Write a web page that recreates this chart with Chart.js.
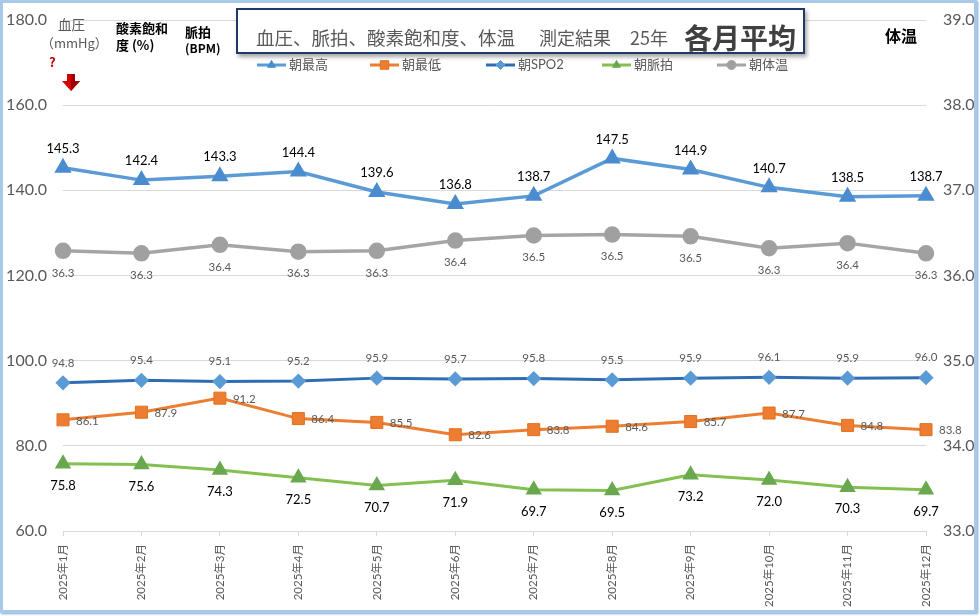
<!DOCTYPE html>
<html><head><meta charset="utf-8">
<script src="https://cdn.jsdelivr.net/npm/chart.js@4.4.1/dist/chart.umd.min.js"></script>
<style>
html,body{margin:0;padding:0;background:#fff;}
#wrap{position:relative;width:980px;height:616px;overflow:hidden;font-family:"Noto Sans CJK JP","Noto Sans",sans-serif;}
#c{position:absolute;left:0;top:0;}
#frame{position:absolute;left:0;top:0;width:971px;height:607px;border:3px solid #a9c9ea;box-shadow:1px 1px 2px #7ea6cf;pointer-events:none;}
.t{position:absolute;white-space:nowrap;line-height:1;}
#titlebox{position:absolute;left:236px;top:8px;width:565px;height:42px;border:2px solid #1f3a68;background:#fff;box-shadow:2px 3px 4px rgba(0,0,0,0.35);}
</style></head>
<body><div id="wrap">
<canvas id="c" width="980" height="616"></canvas>
<div id="titlebox"></div>
<div class="t" style="left:256px;top:28px;font-size:18.5px;color:#595959">血圧、脈拍、酸素飽和度、体温</div>
<div class="t" style="left:539px;top:28px;font-size:18px;color:#595959">測定結果</div>
<div class="t" style="left:630px;top:28px;font-size:18px;color:#595959">25年</div>
<div class="t" style="left:684px;top:23px;font-size:28px;font-weight:bold;color:#404040">各月平均</div>

<div class="t" style="left:58px;top:18px;font-size:13.5px;color:#595959">血圧</div>
<div class="t" style="left:41px;top:36px;font-size:13px;color:#595959">（mmHg）</div>
<div class="t" style="left:49px;top:55px;font-size:13px;font-weight:bold;color:#c00000">?</div>
<svg style="position:absolute;left:62px;top:74px" width="18" height="17" viewBox="0 0 18 17">
  <polygon points="5,0 13,0 13,7 18,7 9,17 0,7 5,7" fill="#d40000"/>
  <polygon points="9,0 13,0 13,7 18,7 9,17" fill="#a00000"/>
</svg>
<div class="t" style="left:116px;top:21px;font-size:13px;font-weight:bold;color:#000">酸素飽和</div>
<div class="t" style="left:116px;top:38px;font-size:13px;font-weight:bold;color:#000">度 (%)</div>
<div class="t" style="left:185px;top:25px;font-size:13px;font-weight:bold;color:#000">脈拍</div>
<div class="t" style="left:185px;top:42px;font-size:12px;font-weight:bold;color:#000">(BPM)</div>
<div class="t" style="left:885px;top:27px;font-size:16px;font-weight:bold;color:#000">体温</div>
<div id="legendText"></div>
<div id="frame"></div>
</div>
<script>
// ---- data ----
const months = ['2025年1月','2025年2月','2025年3月','2025年4月','2025年5月','2025年6月','2025年7月','2025年8月','2025年9月','2025年10月','2025年11月','2025年12月'];
const seriesNames = ['朝最高','朝最低','朝SPO2','朝脈拍','朝体温'];
const morningHigh  = [145.3,142.4,143.3,144.4,139.6,136.8,138.7,147.5,144.9,140.7,138.5,138.7];
const morningLow   = [86.1,87.9,91.2,86.4,85.5,82.6,83.8,84.6,85.7,87.7,84.8,83.8];
const morningSpo2  = [94.8,95.4,95.1,95.2,95.9,95.7,95.8,95.5,95.9,96.1,95.9,96.0];
const morningPulse = [75.8,75.6,74.3,72.5,70.7,71.9,69.7,69.5,73.2,72.0,70.3,69.7];
const morningTemp  = [36.29,36.26,36.36,36.28,36.29,36.41,36.47,36.48,36.46,36.32,36.38,36.26];
const leftAxisRange = [60,180];
const rightAxisRange = [33,39];

Chart.defaults.font.family = "Lato, 'Noto Sans CJK JP', sans-serif";

const FONTF = "Lato, 'Noto Sans CJK JP', sans-serif";

const datasets = [
  {label:seriesNames[0], data:morningHigh, yAxisID:'y', borderColor:'#5b9bd5', backgroundColor:'#4a8ccf', borderWidth:3.5,
   pointStyle:'triangle', pointRadius:6.5, pointBorderColor:'#4a8ccf', pointBackgroundColor:'#4a8ccf',
   lbl:{pos:'above', off:19, font:'13px '+FONTF, color:'#000'}},
  {label:seriesNames[1], data:morningLow, yAxisID:'y', borderColor:'#ed7d31', backgroundColor:'#ed7d31', borderWidth:3,
   pointStyle:'rect', pointRadius:8.5, pointBorderColor:'#e0701f', pointBorderWidth:1, pointBackgroundColor:'#ed7d31',
   lbl:{pos:'right', off:13, font:'11.5px '+FONTF, color:'#595959'}},
  {label:seriesNames[2], data:morningSpo2, yAxisID:'y', borderColor:'#2e6db4', backgroundColor:'#5b9bd5', borderWidth:3,
   pointStyle:'rectRot', pointRadius:5.5, pointBorderColor:'#5b9bd5', pointBackgroundColor:'#5b9bd5',
   lbl:{pos:'above', off:20, font:'11.5px '+FONTF, color:'#595959'}},
  {label:seriesNames[3], data:morningPulse, yAxisID:'y', borderColor:'#84c050', backgroundColor:'#6aa84f', borderWidth:3,
   pointStyle:'triangle', pointRadius:6.5, pointBorderColor:'#6aa84f', pointBackgroundColor:'#6aa84f',
   lbl:{pos:'below', off:22, font:'13px '+FONTF, color:'#000'}},
  {label:seriesNames[4], data:morningTemp, yAxisID:'y2', borderColor:'#a5a5a5', backgroundColor:'#a0a0a0', borderWidth:3.5,
   pointStyle:'circle', pointRadius:6.5, pointBorderColor:'#a0a0a0', pointBackgroundColor:'#a0a0a0',
   lbl:{pos:'below', off:22, font:'11.5px '+FONTF, color:'#595959'}}
];

const labelPlugin = {
  id:'valueLabels',
  afterDatasetsDraw(chart){
    const ctx = chart.ctx;
    chart.data.datasets.forEach((ds,i)=>{
      const meta = chart.getDatasetMeta(i);
      const o = ds.lbl;
      ctx.save();
      ctx.font = o.font; ctx.fillStyle = o.color; ctx.textBaseline = 'middle';
      ctx.textAlign = o.pos==='right' ? 'left' : 'center';
      meta.data.forEach((pt,j)=>{
        let x = pt.x, y = pt.y;
        if(o.pos==='above') y -= o.off;
        else if(o.pos==='below') y += o.off;
        else { x += o.off; y += 1; }
        ctx.fillText(ds.data[j].toFixed(1), x, y);
      });
      ctx.restore();
    });
  }
};

const legendX = [257,370,486,602,717];
const legendY = 65;
const legendPlugin = {
  id:'legendSymbols',
  afterDraw(chart){
    const ctx = chart.ctx;
    chart.data.datasets.forEach((ds,i)=>{
      const x0 = legendX[i];
      ctx.save();
      ctx.strokeStyle = ds.borderColor; ctx.lineWidth = 3;
      ctx.beginPath(); ctx.moveTo(x0, legendY); ctx.lineTo(x0+29, legendY); ctx.stroke();
      ctx.fillStyle = ds.pointBackgroundColor; ctx.strokeStyle = ds.pointBorderColor; ctx.lineWidth = 1;
      Chart.helpers.drawPoint(ctx, {pointStyle:ds.pointStyle, radius: ds.pointStyle==='rect'?6:4.5, rotation:0, borderWidth:1}, x0+14.5, legendY);
      ctx.restore();
    });
  }
};

// legend text as HTML
const lt = document.getElementById('legendText');
seriesNames.forEach((n,i)=>{
  const d = document.createElement('div');
  d.className = 't';
  d.style.cssText = 'left:'+(legendX[i]+32)+'px;top:'+(legendY-7)+'px;font-size:13px;color:#595959;font-family:Lato,"Noto Sans CJK JP",sans-serif';
  d.textContent = n;
  lt.appendChild(d);
});

new Chart(document.getElementById('c'), {
  type:'line',
  data:{labels:months, datasets:datasets},
  options:{
    responsive:false, animation:false, devicePixelRatio:1,
    layout:{padding:{top:20,left:0,right:0,bottom:0}},
    plugins:{legend:{display:false}, title:{display:false}, tooltip:{enabled:false}},
    elements:{line:{tension:0}},
    scales:{
      x:{type:'category', offset:false,
         grid:{display:true, drawOnChartArea:false, drawTicks:true, tickLength:5, color:'#d9d9d9'},
         border:{display:false},
         ticks:{maxRotation:90, minRotation:90, autoSkip:false, color:'#595959', font:{size:11.5}, padding:8},
         afterFit:(s)=>{s.height=85;}},
      y:{position:'left', min:leftAxisRange[0], max:leftAxisRange[1],
         ticks:{stepSize:20, color:'#595959', font:{size:16}, padding:2, callback:(v)=>v.toFixed(1)},
         grid:{color:'#d9d9d9', drawTicks:true, tickLength:14, tickColor:'rgba(0,0,0,0)'}, border:{display:false},
         afterFit:(s)=>{s.width=63;}},
      y2:{position:'right', min:rightAxisRange[0], max:rightAxisRange[1],
         ticks:{stepSize:1, color:'#595959', font:{size:16}, padding:2, callback:(v)=>v.toFixed(1)},
         grid:{display:true, drawOnChartArea:false, drawTicks:true, tickLength:15, tickColor:'rgba(0,0,0,0)', color:'rgba(0,0,0,0)'}, border:{display:false},
         afterFit:(s)=>{s.width=54;}}
    }
  },
  plugins:[labelPlugin, legendPlugin]
});
</script>
</body></html>
